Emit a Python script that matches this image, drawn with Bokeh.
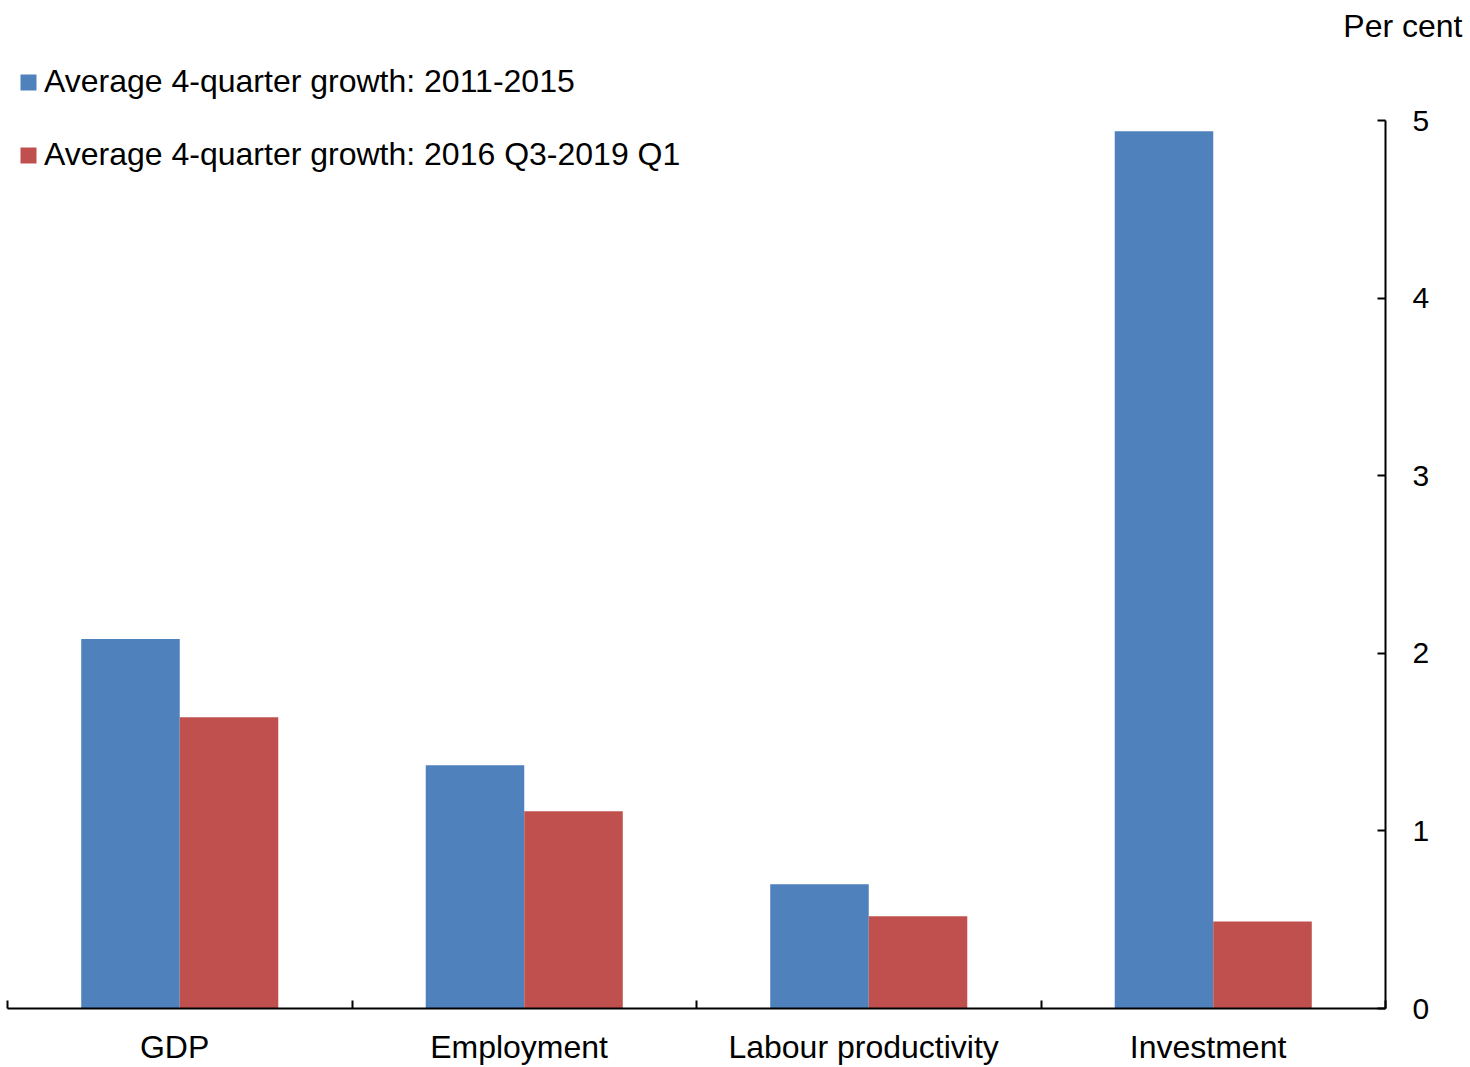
from bokeh.plotting import figure
from bokeh.models import FixedTicker, Range1d, Legend, LegendItem, Title, ColumnDataSource
from bokeh.embed import file_html
from bokeh.resources import INLINE

categories = ["GDP", "Employment", "Labour productivity", "Investment"]
series_names = ["Average 4-quarter growth: 2011-2015",
                "Average 4-quarter growth: 2016 Q3-2019 Q1"]
growth_2011_2015 = [2.08, 1.37, 0.70, 4.94]
growth_2016_2019 = [1.64, 1.11, 0.52, 0.49]
y_ticks = [0, 1, 2, 3, 4, 5]
unit_label = "Per cent"

BLUE = "#4F81BD"
RED = "#C0504D"
FONT = "Liberation Sans"
BAR_W = 0.286
LABEL_SHIFT = 0.015

centers = [i + 0.5 for i in range(len(categories))]
label_pos = [c - LABEL_SHIFT for c in centers]
src_a = ColumnDataSource(dict(x=[c - BAR_W / 2 for c in centers], top=growth_2011_2015))
src_b = ColumnDataSource(dict(x=[c + BAR_W / 2 for c in centers], top=growth_2016_2019))

p = figure(frame_width=1378, frame_height=956, output_backend="svg", toolbar_location=None,
           x_range=Range1d(0, len(categories)), y_range=Range1d(0, 5.383),
           y_axis_location="right", min_border_left=7, min_border_top=52,
           min_border_right=80, min_border_bottom=50)
p.outline_line_color = None
p.grid.visible = False
p.background_fill_color = "white"
p.border_fill_color = "white"

r_a = p.vbar(x="x", top="top", width=BAR_W, bottom=0, source=src_a, fill_color=BLUE, line_color=None)
r_b = p.vbar(x="x", top="top", width=BAR_W, bottom=0, source=src_b, fill_color=RED, line_color=None)

xa = p.xaxis[0]
xa.ticker = FixedTicker(ticks=label_pos, minor_ticks=list(range(len(categories) + 1)))
xa.major_label_overrides = {c: name for c, name in zip(label_pos, categories)}
xa.major_tick_in = 0
xa.major_tick_out = 0
xa.minor_tick_in = 8
xa.minor_tick_out = 0
xa.minor_tick_line_color = "black"
xa.minor_tick_line_width = 2
xa.axis_line_color = "black"
xa.axis_line_width = 2
xa.major_label_text_font = FONT
xa.major_label_text_font_size = "32px"
xa.major_label_text_color = "black"
xa.major_label_standoff = 20

ya = p.yaxis[0]
ya.bounds = (min(y_ticks), max(y_ticks))
ya.ticker = FixedTicker(ticks=y_ticks, minor_ticks=[])
ya.major_tick_in = 8
ya.major_tick_out = 0
ya.major_tick_line_color = "black"
ya.major_tick_line_width = 2
ya.axis_line_color = "black"
ya.axis_line_width = 2
ya.major_label_text_font = FONT
ya.major_label_text_font_size = "30px"
ya.major_label_text_color = "black"
ya.major_label_standoff = 27

legend = Legend(items=[LegendItem(label=series_names[0], renderers=[r_a]),
                       LegendItem(label=series_names[1], renderers=[r_b])],
                location="top_left", orientation="vertical",
                padding=12, margin=11, spacing=36, label_height=36,
                glyph_width=20, glyph_height=20, label_standoff=6,
                label_text_font=FONT, label_text_font_size="32px", label_text_color="black",
                background_fill_alpha=0, border_line_color=None)
p.add_layout(legend)

p.add_layout(Title(text=unit_label, align="right", offset=-77, standoff=14, vertical_align="top",
                   text_font=FONT, text_font_size="32px", text_font_style="normal",
                   text_color="black"), "above")

open("out.html", "w").write(file_html(p, INLINE))
